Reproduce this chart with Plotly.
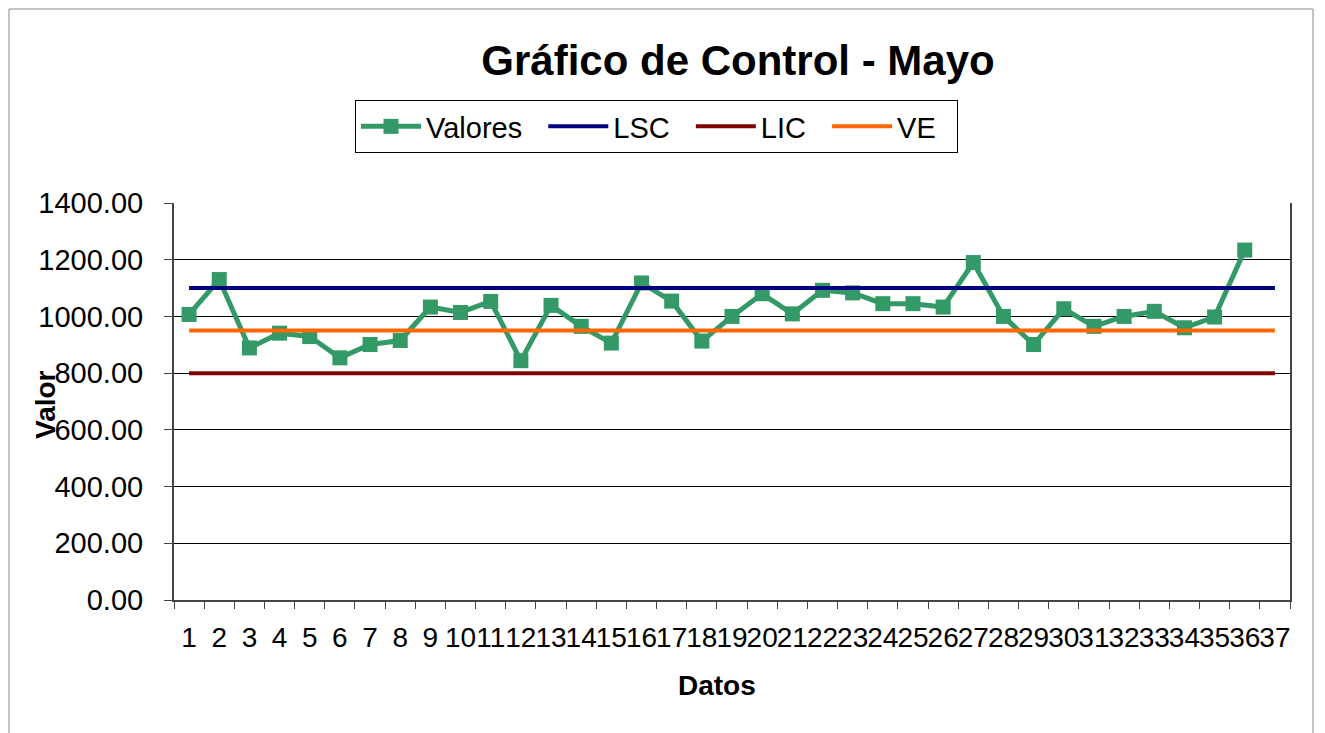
import plotly.graph_objects as go

categories = [str(i) for i in range(1, 38)]
valores = [1007, 1130, 889, 941, 929, 854, 901, 915, 1033, 1014, 1053, 844, 1039,
           965, 906, 1118, 1054, 913, 1000, 1080, 1009, 1092, 1083, 1045, 1045, 1033,
           1190, 1000, 901, 1027, 965, 1000, 1018, 960, 998, 1234]
lsc = [1100] * 37
lic = [800] * 37
ve = [950] * 37
series_names = ["Valores", "LSC", "LIC", "VE"]

FONT = "Arial, Liberation Sans, sans-serif"
PAD = "\u00a0\u00a0"  # extra legend spacing after each entry

# page body has an 8px margin; figure sized/offset to compensate
W, H = 1317, 725
OFF = 8

fig = go.Figure()
fig.add_trace(go.Scatter(x=categories[:len(valores)], y=valores, name=series_names[0] + PAD,
                         mode="lines+markers",
                         line=dict(color="#339966", width=5),
                         marker=dict(symbol="square", size=15, color="#339966")))
fig.add_trace(go.Scatter(x=categories, y=lsc, name=series_names[1] + PAD, mode="lines",
                         line=dict(color="#000080", width=4)))
fig.add_trace(go.Scatter(x=categories, y=lic, name=series_names[2] + PAD, mode="lines",
                         line=dict(color="#800000", width=4)))
fig.add_trace(go.Scatter(x=categories, y=ve, name=series_names[3] + PAD, mode="lines",
                         line=dict(color="#FF6600", width=4)))

fig.update_layout(
    width=W, height=H,
    margin=dict(l=174 - OFF, r=W - (1290 - OFF), t=203 - OFF, b=H - (600 - OFF)),
    paper_bgcolor="white", plot_bgcolor="white",
    font=dict(family=FONT, color="black"),
    title=dict(text="<b>Gráfico de Control - Mayo</b>", x=(738 - OFF) / W, xanchor="center",
               y=1 - (60 - OFF) / H, yanchor="middle", font=dict(size=42, family=FONT, color="black")),
    legend=dict(orientation="h", x=(355 - 174) / 1116, y=(600 - 100) / 397, xanchor="left", yanchor="top",
                bordercolor="black", borderwidth=1, font=dict(size=29, family=FONT),
                itemwidth=60, tracegroupgap=0),
    showlegend=True,
)
fig.update_xaxes(type="category", categoryorder="array", categoryarray=categories,
                 tickmode="array", tickvals=categories, ticktext=categories,
                 tickson="boundaries", ticks="outside", ticklen=7, tickcolor="#444",
                 showline=True, linecolor="#444", linewidth=2, showgrid=False,
                 tickfont=dict(size=28, family=FONT, color="black"),
                 ticklabelstandoff=11, range=[-0.5, 36.5], tickangle=0)
fig.update_yaxes(range=[0, 1400], dtick=200, tickformat=".2f",
                 ticks="outside", ticklen=8, tickcolor="#444",
                 showline=True, linecolor="#444", linewidth=2, mirror=True,
                 showgrid=True, gridcolor="black", gridwidth=1, zeroline=False,
                 tickfont=dict(size=29, family=FONT, color="black"),
                 ticklabelstandoff=15)

fig.add_annotation(text="<b>Valor</b>", xref="paper", yref="paper",
                   x=(45 - 174) / 1116, y=(600 - 405) / 397, textangle=-90, showarrow=False,
                   xanchor="center", yanchor="middle",
                   font=dict(size=28, family=FONT, color="black"))
fig.add_annotation(text="<b>Datos</b>", xref="paper", yref="paper",
                   x=(717 - 174) / 1116, y=(600 - 685) / 397, showarrow=False,
                   xanchor="center", yanchor="middle",
                   font=dict(size=28, family=FONT, color="black"))
fig.add_shape(type="rect", xref="paper", yref="paper",
              x0=(9 - 174) / 1116, x1=(1313 - 174) / 1116, y0=(600 - 745) / 397, y1=(600 - 9) / 397,
              line=dict(color="#888", width=1), layer="below")

fig.write_html("out.html")
